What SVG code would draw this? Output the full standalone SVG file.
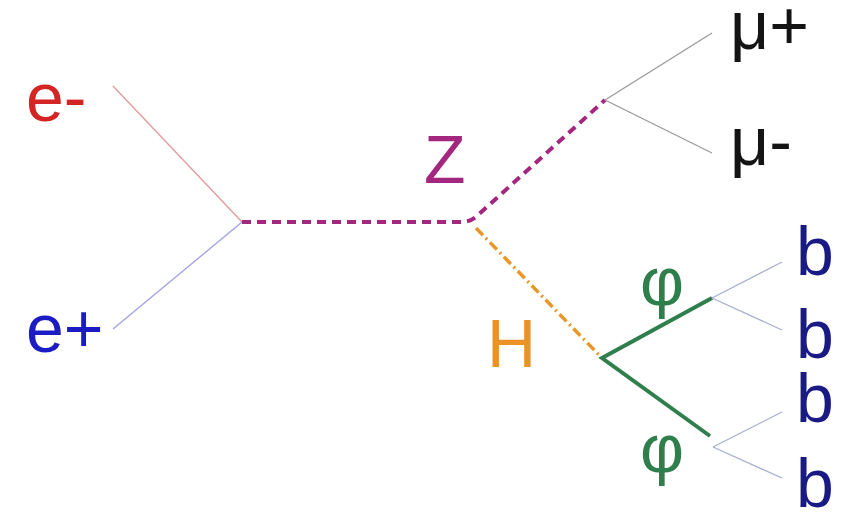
<svg xmlns="http://www.w3.org/2000/svg" width="846" height="514" viewBox="0 0 846 514">
<style>
text{font-family:"Liberation Sans",Arial,sans-serif;font-size:68px}
.thin{fill:none;stroke-width:1.3}
</style>
<rect width="846" height="514" fill="#ffffff"/>
<g id="connectors">
<line class="thin" x1="113" y1="86" x2="242" y2="222" stroke="#e29a9a"/>
<line class="thin" x1="113" y1="329" x2="242" y2="222" stroke="#a0a0e0"/>
<path d="M242,222 H462 Q471,222 478,215 L605,100" fill="none" stroke="#a3267f" stroke-width="4" stroke-dasharray="9,6"/>
<line class="thin" x1="605" y1="100" x2="712" y2="33" stroke="#9a9a9a"/>
<line class="thin" x1="605" y1="100" x2="712" y2="153" stroke="#9a9a9a"/>
<line x1="476" y1="228" x2="601" y2="357" stroke="#e8982a" stroke-width="3.5" stroke-dasharray="10,4,2,4"/>
<polyline points="712,298 602,358 710,436" fill="none" stroke="#2f7f4c" stroke-width="4"/>
<line class="thin" x1="712" y1="298" x2="782" y2="262" stroke="#a8aed0"/>
<line class="thin" x1="712" y1="298" x2="782" y2="330" stroke="#a8aed0"/>
<line class="thin" x1="713" y1="447" x2="782" y2="412" stroke="#a8aed0"/>
<line class="thin" x1="713" y1="447" x2="782" y2="478" stroke="#a8aed0"/>
</g>
<g id="e-minus"><text x="26" y="121" fill="#d42424">e-</text></g>
<g id="e-plus"><text x="26" y="352" fill="#1c1cc4">e+</text></g>
<g id="Z"><text x="424" y="183" fill="#a3267f">Z</text></g>
<g id="mu-plus"><text x="730" y="49" fill="#141414">μ+</text></g>
<g id="mu-minus"><text x="730" y="165" fill="#141414">μ-</text></g>
<g id="H"><text x="487" y="367" fill="#ea9228">H</text></g>
<g id="phi1"><text x="640" y="305" fill="#2f7f4c">φ</text></g>
<g id="phi2"><text x="640" y="472" fill="#2f7f4c">φ</text></g>
<g id="b1"><text x="796" y="275" fill="#1a1a84">b</text></g>
<g id="b2"><text x="796" y="358" fill="#1a1a84">b</text></g>
<g id="b3"><text x="796" y="422" fill="#1a1a84">b</text></g>
<g id="b4"><text x="796" y="507" fill="#1a1a84">b</text></g>
</svg>
